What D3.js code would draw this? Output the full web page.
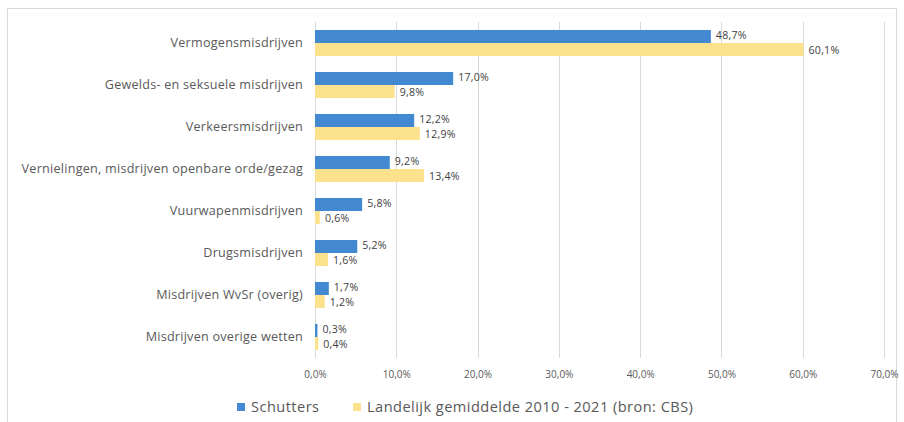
<!DOCTYPE html>
<html>
<head>
<meta charset="utf-8">
<script src="https://cdn.jsdelivr.net/npm/d3@7"></script>
<style>
  html, body { margin: 0; padding: 0; background: #fff; }
  svg { display: block; }
  text { font-family: "Open Sans", "Liberation Sans", sans-serif; }
</style>
</head>
<body>
<svg id="chart" width="904" height="422"></svg>
<script>
const categories = [
  "Vermogensmisdrijven",
  "Gewelds- en seksuele misdrijven",
  "Verkeersmisdrijven",
  "Vernielingen, misdrijven openbare orde/gezag",
  "Vuurwapenmisdrijven",
  "Drugsmisdrijven",
  "Misdrijven WvSr (overig)",
  "Misdrijven overige wetten"
];
const schutters = [48.7, 17.0, 12.2, 9.2, 5.8, 5.2, 1.7, 0.3];
const landelijk = [60.1, 9.8, 12.9, 13.4, 0.6, 1.6, 1.2, 0.4];
const seriesNames = ["Schutters", "Landelijk gemiddelde 2010 - 2021 (bron: CBS)"];
const tickValues = [0, 10, 20, 30, 40, 50, 60, 70];

const colors = ["#4389d2", "#fde28e"];

const locale = d3.formatLocale({decimal: ",", thousands: ".", grouping: [3], currency: ["€", ""]});
const fmt = locale.format(".1f");
const pct = v => fmt(v) + "%";

const svg = d3.select("#chart");

// outer chart border
svg.append("rect")
  .attr("x", 7.5).attr("y", 8.5).attr("width", 889).attr("height", 430)
  .attr("fill", "none").attr("stroke", "#d9d9d9").attr("stroke-width", 1);

const x = d3.scaleLinear().domain([0, 70]).range([315, 884]);
const y = d3.scaleBand().domain(categories).range([22, 358]).paddingInner(0.38).paddingOuter(0.19);
const sub = d3.scaleBand().domain([0, 1]).range([0, y.bandwidth()]);

// gridlines
svg.append("g")
  .selectAll("line")
  .data(tickValues)
  .join("line")
  .attr("x1", d => Math.round(x(d)) + 0.5)
  .attr("x2", d => Math.round(x(d)) + 0.5)
  .attr("y1", 22).attr("y2", 358)
  .attr("stroke", "#d9d9d9").attr("stroke-width", 1);

// x axis labels
const xAxis = d3.axisBottom(x).tickValues(tickValues).tickFormat(pct).tickSize(0).tickPadding(0);
const gx = svg.append("g").attr("transform", "translate(0,371)").call(xAxis);
gx.select(".domain").remove();
gx.selectAll("text")
  .attr("font-size", 10).attr("fill", "#595959")
  .style("font-family", "'Open Sans', sans-serif");

// y axis labels
const yAxis = d3.axisLeft(y).tickSize(0).tickPadding(12);
const gy = svg.append("g").attr("transform", "translate(315,0)").call(yAxis);
gy.select(".domain").remove();
gy.selectAll("text")
  .attr("font-size", 12.6).attr("fill", "#595959")
  .attr("letter-spacing", 0.25)
  .style("font-family", "'Open Sans', sans-serif");

const series = [schutters, landelijk];
const labelShift = [-1, 1];

series.forEach((vals, si) => {
  const g = svg.append("g");
  g.selectAll("rect")
    .data(vals)
    .join("rect")
    .attr("x", x(0))
    .attr("y", (d, i) => y(categories[i]) + sub(si))
    .attr("width", d => x(d) - x(0))
    .attr("height", sub.bandwidth())
    .attr("fill", colors[si]);
  g.selectAll("text")
    .data(vals)
    .join("text")
    .attr("x", d => x(d) + 5)
    .attr("y", (d, i) => y(categories[i]) + sub(si) + sub.bandwidth() / 2 + labelShift[si])
    .attr("dy", "0.35em")
    .attr("font-size", 10.6)
    .attr("letter-spacing", 0.25)
    .attr("fill", "#404040")
    .text(d => pct(d));
});

// legend
const legend = svg.append("g").attr("transform", "translate(237,407)");
const legX = [0, 116];
seriesNames.forEach((name, i) => {
  const item = legend.append("g").attr("transform", `translate(${legX[i]},0)`);
  item.append("rect").attr("x", 0).attr("y", -4).attr("width", 8).attr("height", 8).attr("fill", colors[i]);
  item.append("text").attr("x", 14).attr("y", 0).attr("dy", "0.35em")
    .attr("font-size", 14.6).attr("letter-spacing", 0.45).attr("fill", "#595959").text(name);
});
</script>
</body>
</html>
